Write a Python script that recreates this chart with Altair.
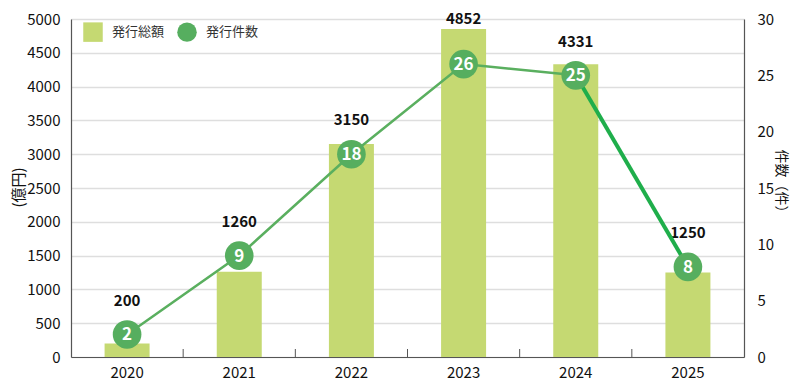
import altair as alt
import pandas as pd

years = ["2020", "2021", "2022", "2023", "2024", "2025"]
amounts = [200, 1260, 3150, 4852, 4331, 1250]
counts = [2, 9, 18, 26, 25, 8]
series_names = ["発行総額", "発行件数"]

BAR = "#c5d972"
DOT = "#56ae5f"
LINE_THIN = "#5aaf5f"
LINE_THICK = "#1fae4b"
JP = "Noto Sans CJK JP"

df = pd.DataFrame({"year": years, "amount": amounts, "count": counts})
seg_thin = df.iloc[:5]
seg_thick = df.iloc[4:]
tick_df = df.iloc[1:]
legend_df = pd.DataFrame({"series": series_names})

xscale = alt.Scale(domain=years, paddingInner=0, paddingOuter=0)
x_axis = alt.Axis(title=None, labelAngle=0, ticks=False, labelPadding=8,
                  labelFontSize=15, labelColor="#111", labelFont=JP,
                  domainColor="#555", domainWidth=1.2, grid=False)
X = alt.X("year:N", scale=xscale, axis=x_axis)

lscale = alt.Scale(domain=[0, 5000])
rscale = alt.Scale(domain=[0, 30])

left_axis = alt.Axis(orient="left", values=list(range(0, 5001, 500)), format="d",
                     title="(億円)", titleAngle=-90, titleFont=JP,
                     titleFontSize=15, titleFontWeight="normal", titleColor="#111",
                     titleX=-53, titleY=168, titleAlign="center", titleBaseline="middle",
                     labelFont=JP, labelFontSize=15, labelColor="#111", labelPadding=11,
                     ticks=False, domainColor="#555", domainWidth=1.2,
                     grid=True, gridColor="#dedede", gridWidth=1.5)
right_axis = alt.Axis(orient="right", values=list(range(0, 31, 5)), format="d",
                      title="件数（件）", titleAngle=90, titleFont=JP,
                      titleFontSize=14, titleFontWeight="normal", titleColor="#111",
                      titleX=36, titleY=165, titleAlign="center", titleBaseline="middle",
                      labelFont=JP, labelFontSize=15, labelColor="#111", labelPadding=13,
                      ticks=False, domainColor="#555", domainWidth=1.2, grid=False)

bars = alt.Chart(df).mark_bar(size=45, color=BAR).encode(
    x=X, y=alt.Y("amount:Q", scale=lscale, axis=left_axis))

bar_labels = alt.Chart(df).transform_calculate(
    label_y="max(datum.amount + 150, datum.count * 5000 / 30 + 500)"
).mark_text(font=JP, fontSize=15, fontWeight="bold", color="#111", baseline="middle").encode(
    x=X, y=alt.Y("label_y:Q", scale=lscale, axis=left_axis), text="amount:Q")

ticks = alt.Chart(tick_df).mark_rule(color="#555", strokeWidth=1).encode(
    x=alt.X("year:N", scale=xscale, axis=x_axis, bandPosition=0),
    y=alt.value(330), y2=alt.value(338))

legend_cfg = alt.Legend(title=None, orient="none", legendX=12, legendY=3,
                        direction="horizontal", labelFont=JP, labelFontSize=13,
                        labelColor="#333", symbolSize=380, symbolStrokeWidth=0,
                        symbolOpacity=1, labelOffset=9, columnPadding=12)
legend_layer = alt.Chart(legend_df).mark_point(filled=True, opacity=0).encode(
    x=alt.value(0), y=alt.value(0),
    color=alt.Color("series:N", scale=alt.Scale(domain=series_names, range=[BAR, DOT]),
                    legend=legend_cfg, sort=series_names),
    shape=alt.Shape("series:N", scale=alt.Scale(domain=series_names, range=["square", "circle"]),
                    legend=legend_cfg, sort=series_names))

line_thin = alt.Chart(seg_thin).mark_line(color=LINE_THIN, strokeWidth=2.5).encode(
    x=X, y=alt.Y("count:Q", scale=rscale, axis=right_axis))
line_thick = alt.Chart(seg_thick).mark_line(color=LINE_THICK, strokeWidth=4).encode(
    x=X, y=alt.Y("count:Q", scale=rscale, axis=right_axis))
dots = alt.Chart(df).mark_circle(size=820, color=DOT, opacity=1).encode(
    x=X, y=alt.Y("count:Q", scale=rscale, axis=right_axis))
dot_labels = alt.Chart(df).mark_text(font=JP, fontSize=17, fontWeight="bold", color="white",
                                     baseline="middle", dy=1).encode(
    x=X, y=alt.Y("count:Q", scale=rscale, axis=right_axis), text="count:Q")

left = alt.layer(bars, ticks, bar_labels, legend_layer)
right = alt.layer(line_thin, line_thick, dots, dot_labels)

chart = alt.layer(left, right).resolve_scale(y="independent").properties(
    width=673, height=338, autosize="none",
    padding={"left": 63, "top": 11, "right": 48, "bottom": 26},
).configure_view(stroke=None)

chart.save("out.html", embed_options={"renderer": "svg", "actions": False})
